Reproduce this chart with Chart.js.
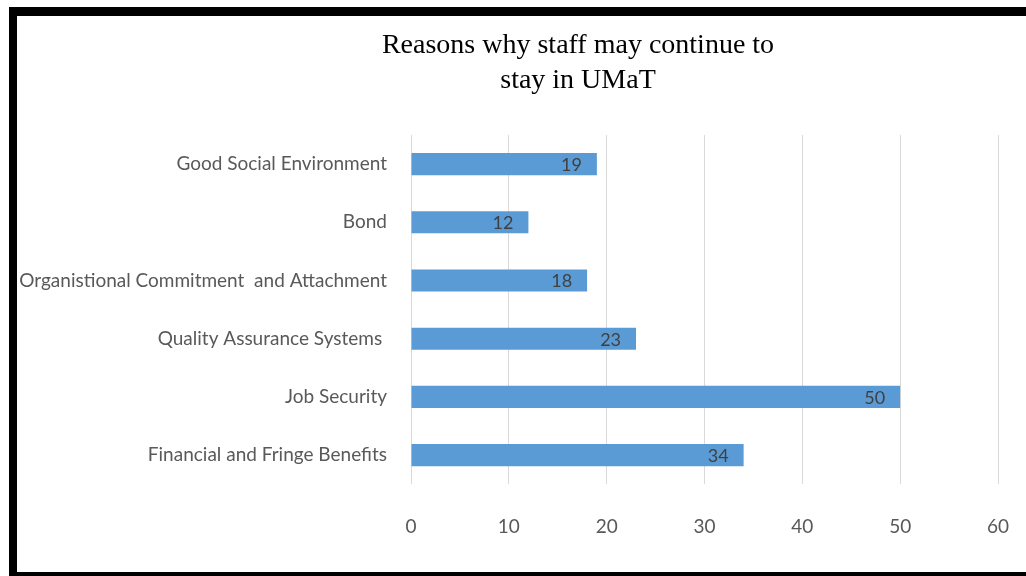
<!DOCTYPE html>
<html>
<head>
<meta charset="utf-8">
<script src="https://cdn.jsdelivr.net/npm/chart.js@4/dist/chart.umd.min.js"></script>
<style>
  html, body { margin: 0; padding: 0; background: #fff; overflow: hidden; }
  #wrap { position: absolute; left: 0; top: 0; width: 1156px; height: 576px; }
  #frame {
    position: absolute; left: 9px; top: 7px; width: 1100px; height: 556px;
    border-left: 8px solid #000; border-top: 9px solid #000; border-bottom: 8px solid #000;
    pointer-events: none; z-index: 2;
  }
</style>
</head>
<body>
<div id="wrap"><canvas id="reasonsChart" width="1156" height="576"></canvas></div>
<div id="frame"></div>
<script>
// chart data
const reasons = [
  'Good Social Environment',
  'Bond',
  'Organistional Commitment  and Attachment',
  'Quality Assurance Systems ',
  'Job Security',
  'Financial and Fringe Benefits'
];
const staffCounts = [19, 12, 18, 23, 50, 34];
const xTicks = [0, 10, 20, 30, 40, 50, 60];

const labelFont = { family: 'Lato', size: 19 };

// value labels inside the bar ends
const barValueLabels = {
  id: 'barValueLabels',
  afterDatasetsDraw(chart) {
    const ctx = chart.ctx;
    const meta = chart.getDatasetMeta(0);
    ctx.save();
    ctx.font = '18px Lato';
    ctx.fillStyle = '#404040';
    ctx.textAlign = 'right';
    ctx.textBaseline = 'middle';
    meta.data.forEach((bar, i) => {
      ctx.fillText(String(staffCounts[i]), bar.x - 15, bar.y + 1);
    });
    ctx.restore();
  }
};

new Chart(document.getElementById('reasonsChart'), {
  type: 'bar',
  data: {
    labels: reasons,
    datasets: [{
      data: staffCounts,
      backgroundColor: '#5b9bd5',
      barPercentage: 0.38,
      categoryPercentage: 1
    }]
  },
  options: {
    indexAxis: 'y',
    responsive: false,
    animation: false,
    layout: { padding: { left: 0, right: 0, top: 0, bottom: 7 } },
    plugins: {
      legend: { display: false },
      tooltip: { enabled: false },
      title: {
        display: true,
        text: ['Reasons why staff may continue to', 'stay in UMaT'],
        font: { family: 'Liberation Serif', size: 28, weight: 'normal', lineHeight: '35px' },
        color: '#000',
        padding: { top: 28.5, bottom: 36.5 }
      }
    },
    scales: {
      x: {
        min: 0,
        max: 60,
        afterBuildTicks: s => { s.ticks = xTicks.map(v => ({ value: v })); },
        afterFit: s => { s.paddingLeft = 0; s.paddingRight = 0; },
        grid: { color: '#d9d9d9', drawTicks: false },
        border: { display: false },
        ticks: { font: labelFont, color: '#595959', padding: 31 }
      },
      y: {
        afterFit: s => { s.width = 411; },
        grid: { display: false, drawTicks: false },
        border: { display: false },
        ticks: { font: labelFont, color: '#595959', padding: 24 }
      },
      // empty box on the right so the plot ends at the same place as the original
      yPad: {
        type: 'linear',
        position: 'right',
        afterFit: s => { s.width = 158; },
        grid: { display: false, drawTicks: false },
        border: { display: false },
        ticks: { display: false }
      }
    }
  },
  plugins: [barValueLabels]
});
</script>
</body>
</html>
